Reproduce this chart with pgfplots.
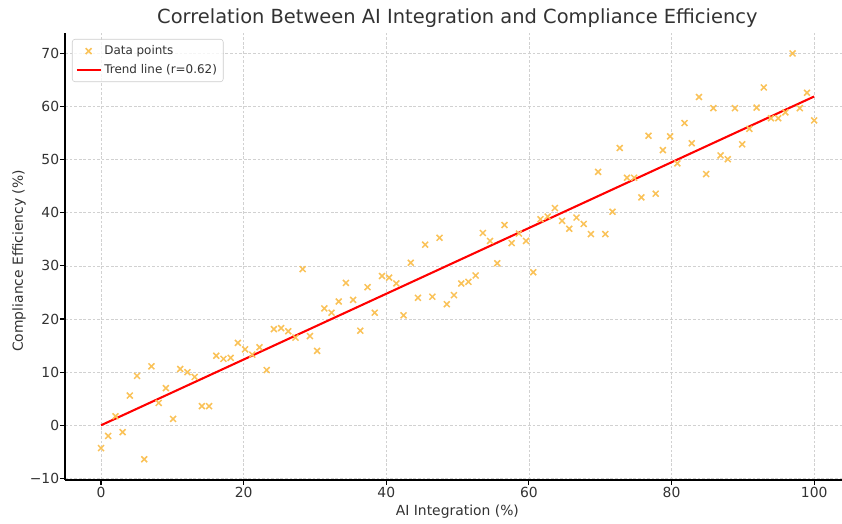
\documentclass[border=0pt]{standalone}
\usepackage{pgfplots}
\pgfplotsset{compat=1.18}
\usepackage{fontspec}
\setmainfont{DejaVu Sans}
\definecolor{ptc}{RGB}{250,194,88}
\definecolor{txt}{RGB}{50,50,50}
\begin{document}
\begin{tikzpicture}
\begin{axis}[
 scale only axis, width=559.4pt, height=321.8pt,
 xmin=-5.05, xmax=103.9, ymin=-10.3, ymax=73.85,
 axis x line*=bottom, axis y line*=left,
 axis line style={black, line width=0.8pt, -},
 xtick={0,20,40,60,80,100},
 ytick={-10,0,10,20,30,40,50,60,70},
 yticklabels={−10,0,10,20,30,40,50,60,70},
 tick align=outside, major tick length=3.5pt,
 tick style={black, line width=0.8pt},
 grid=major, grid style={dash pattern=on 2pt off 1.3pt, black!18, line width=0.5pt},
 ticklabel style={font=\fontsize{10}{12}\selectfont, text=txt},
 yticklabel style={xshift=2.8pt},
 xticklabel style={yshift=1.5pt},
 /pgf/number format/assume math mode=true,
 xlabel={AI Integration (\%)}, ylabel={Compliance Efficiency (\%)},
 label style={font=\fontsize{10}{12}\selectfont, text=txt},
 xlabel style={at={(axis description cs:0.505,-0.0705)}, anchor=center},
 ylabel style={at={(axis description cs:-0.0590,0.49)}, anchor=center, rotate=0},
 title={Correlation Between AI Integration and Compliance Efficiency},
 every axis title/.style={at={(axis description cs:0.505,1.0336)}, anchor=center, font=\fontsize{14}{16}\selectfont, text=txt},
 legend style={at={(axis description cs:0.009,0.9866)}, anchor=north west, draw=black!20, fill=white, fill opacity=0.8, text opacity=1, rounded corners=2pt, font=\fontsize{8.6}{10}\selectfont, row sep=1.5pt, inner sep=2.5pt, text=txt},
 legend cell align=left,
]
\addplot[only marks, mark=x, mark size=3pt, color=ptc, mark options={line width=1.1pt}] table[x=x,y=y] {
x y
0 -4.3
1.01 -2.0
2.02 1.7
3.03 -1.3
4.04 5.6
5.05 9.3
6.06 -6.4
7.07 11.1
8.08 4.2
9.09 7.0
10.10 1.2
11.11 10.6
12.12 10.0
13.13 9.1
14.14 3.6
15.15 3.6
16.16 13.1
17.17 12.5
18.18 12.7
19.19 15.5
20.20 14.3
21.21 13.3
22.22 14.7
23.23 10.4
24.24 18.1
25.25 18.3
26.26 17.7
27.27 16.5
28.28 29.4
29.29 16.8
30.30 14.0
31.31 22.0
32.32 21.2
33.33 23.3
34.34 26.8
35.35 23.6
36.36 17.8
37.37 26.0
38.38 21.2
39.39 28.1
40.40 27.8
41.41 26.7
42.42 20.7
43.43 30.6
44.44 24.0
45.45 34.0
46.46 24.2
47.47 35.3
48.48 22.8
49.49 24.5
50.51 26.7
51.52 27.0
52.53 28.2
53.54 36.2
54.55 34.7
55.56 30.5
56.57 37.7
57.58 34.3
58.59 36.1
59.60 34.7
60.61 28.8
61.62 38.8
62.63 39.3
63.64 40.9
64.65 38.5
65.66 37.0
66.67 39.1
67.68 37.9
68.69 36.0
69.70 47.7
70.71 36.0
71.72 40.2
72.73 52.2
73.74 46.6
74.75 46.6
75.76 42.9
76.77 54.5
77.78 43.6
78.79 51.8
79.80 54.4
80.81 49.3
81.82 56.9
82.83 53.1
83.84 61.8
84.85 47.3
85.86 59.7
86.87 50.8
87.88 50.1
88.89 59.7
89.90 52.9
90.91 55.8
91.92 59.8
92.93 63.6
93.94 57.8
94.95 57.8
95.96 58.9
96.97 70.0
97.98 59.7
98.99 62.6
100 57.4
};
\addlegendentry{Data points}
\addplot[red, line width=1.5pt] coordinates {(0,0) (100,61.9)};
\addlegendentry{Trend line (r=0.62)}
\end{axis}
\pgfresetboundingbox
\path[use as bounding box] ([xshift=-46.8pt,yshift=-31pt]current axis.south west) rectangle ([yshift=23.76pt]current axis.north east);
\end{tikzpicture}
\end{document}
